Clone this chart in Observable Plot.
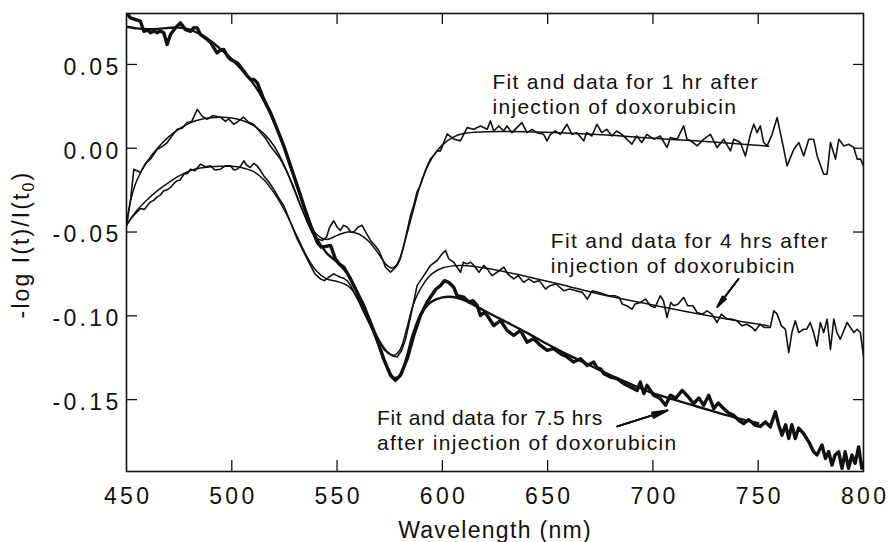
<!DOCTYPE html>
<html><head><meta charset="utf-8">
<script src="https://cdn.jsdelivr.net/npm/d3@7"></script>
<script src="https://cdn.jsdelivr.net/npm/@observablehq/plot@0.6"></script>
<style>
body{margin:0;background:#fff;}
#chart svg{display:block;letter-spacing:1.3px;}
g[aria-label="x-axis tick label"], g[aria-label="y-axis tick label"]{letter-spacing:3.3px;}
</style></head><body><div id="chart"></div>
<script>
// Wavelength (nm) / -log I(t)/I(t0) pairs
const data1hr = [[450,-0.046],[452,-0.030],[453.5,-0.0125],[456.6,-0.0145],[459,-0.009],[461.4,-0.0065],[464.6,-0.0006],[467,0.001],[469.3,0.0034],[472,0.008],[474.1,0.0113],[476.5,0.012],[478.8,0.0153],[481,0.016],[483.6,0.0232],[486,0.019],[488.3,0.0173],[491,0.0195],[494.6,0.0185],[497,0.016],[498.5,0.0175],[500.9,0.0143],[503,0.016],[505.6,0.0185],[508,0.0155],[510.4,0.0143],[513.6,0.0095],[516,0.006],[518.4,0.0012],[521,-0.003],[523.1,-0.0065],[526.3,-0.0143],[529,-0.022],[532,-0.032],[535.8,-0.044],[538,-0.050],[540.5,-0.054],[543,-0.055],[545,-0.053],[546.5,-0.047],[548.4,-0.0433],[550,-0.047],[551.6,-0.049],[553,-0.046],[554.8,-0.047],[556.5,-0.050],[558,-0.050],[560,-0.047],[561.9,-0.046],[564,-0.051],[565.9,-0.055],[568,-0.058],[569.8,-0.061],[571.5,-0.066],[573,-0.071],[575.4,-0.074],[577,-0.072],[578.5,-0.070],[580,-0.066],[581.7,-0.058],[583.3,-0.049],[584.9,-0.040],[586.4,-0.034],[588,-0.026],[589.6,-0.022],[592,-0.013],[594.3,-0.0065],[596,-0.004],[597.5,-0.0016],[599.1,-0.0016],[602.3,0.0085],[605.4,0.0055],[608.6,0.0044],[611.8,0.0123],[614.9,0.0113],[618.1,0.0133],[621.3,0.0113],[622.8,0.0163],[624.4,0.0103],[626.8,0.0133],[629.1,0.0103],[630.7,0.0133],[633.1,0.0093],[635.4,0.0123],[637.8,0.0153],[640.2,0.0093],[642.6,0.0113],[644.9,0.0093],[648.1,0.0083],[649.7,0.0044],[651.3,0.0083],[653.6,0.0103],[656,0.0083],[659.2,0.0143],[661.5,0.0083],[663.9,0.0093],[667.1,0.0044],[668.6,0.0093],[671,0.0073],[673.4,0.0143],[675.7,0.0093],[678.1,0.0113],[680.5,0.0073],[682.8,0.0103],[685.2,0.0083],[687.6,0.0054],[690,0.0024],[692.3,0.0073],[694.7,0.0034],[697.1,0.0083],[700.4,0.0054],[703.5,0.0073],[706.7,0.0004],[708.3,0.0064],[711.5,0.0054],[714.6,0.0133],[716.2,0.0054],[718.5,0.004],[721,0.0014],[724.1,0.0054],[727.3,0.0083],[730.5,0.0004],[733.6,0.0054],[736.8,-0.0016],[738.4,0.0054],[741.5,0.0034],[743.9,-0.0046],[746.3,0.0083],[747.9,0.0143],[749.5,0.0093],[751,0.0133],[752.6,0.0034],[754.2,0.0014],[756.5,0.008],[759,0.0183],[762,0.0004],[763.7,-0.0105],[766.9,-0.0006],[769.3,0.0034],[771.6,-0.0046],[774,0.0054],[776.3,0.0054],[778,-0.0046],[781.1,-0.0155],[782.7,-0.0155],[784.3,0.0034],[786.7,-0.0065],[788.3,0.0054],[790.6,0.0014],[793,0.0024],[795.4,0.0004],[797,-0.0065],[798.6,-0.0065],[800,-0.0105]];
const fit1hr = [[450,-0.046],[452,-0.031],[455,-0.019],[460,-0.0075],[465,0.0005],[470,0.0068],[475,0.0115],[480,0.015],[485,0.0172],[490,0.0182],[495,0.0185],[500,0.018],[505,0.0165],[510,0.0138],[515,0.009],[520,0.0015],[525,-0.0105],[530,-0.026],[535,-0.041],[540,-0.051],[545,-0.0545],[550,-0.052],[555,-0.050],[560,-0.051],[565,-0.0555],[570,-0.0635],[573,-0.069],[576,-0.0715],[578,-0.070],[580,-0.065],[583,-0.052],[586,-0.038],[590,-0.020],[595,-0.006],[600,0.002],[605,0.0065],[610,0.0088],[620,0.0098],[640,0.0098],[660,0.009],[680,0.0078],[700,0.006],[720,0.0044],[740,0.0027],[755,0.0012]];
const data4hr = [[450,-0.046],[452,-0.042],[453.5,-0.040],[455,-0.038],[456.6,-0.036],[458.5,-0.0365],[460,-0.034],[461.4,-0.032],[463,-0.031],[464.6,-0.029],[466,-0.028],[467.7,-0.0254],[469,-0.025],[470.9,-0.0234],[472.5,-0.021],[474.1,-0.0194],[475.5,-0.019],[477.2,-0.0155],[479,-0.015],[480.4,-0.0125],[482.5,-0.0135],[485.1,-0.0095],[487.5,-0.011],[489.9,-0.0105],[492,-0.013],[494.6,-0.0125],[497,-0.0105],[499.4,-0.0105],[501,-0.013],[502.5,-0.0125],[504,-0.011],[505.7,-0.0075],[507,-0.010],[508.8,-0.0115],[510.5,-0.009],[512,-0.0105],[513.5,-0.013],[515.2,-0.0165],[517.5,-0.020],[519.9,-0.0244],[522,-0.029],[524.7,-0.0343],[527.9,-0.0442],[531,-0.054],[534.2,-0.062],[537,-0.069],[539.5,-0.075],[542.1,-0.078],[544,-0.079],[546,-0.077],[548.4,-0.075],[550,-0.076],[551.6,-0.077],[553,-0.0775],[554.8,-0.079],[556.5,-0.082],[558,-0.086],[560.5,-0.092],[562.7,-0.098],[565,-0.104],[567.4,-0.110],[570,-0.115],[572.2,-0.120],[574.5,-0.1225],[576.5,-0.124],[578.5,-0.1246],[580.5,-0.121],[582.5,-0.114],[585,-0.100],[588,-0.082],[591.2,-0.076],[594.3,-0.070],[597.5,-0.067],[599.9,-0.063],[601.5,-0.061],[603,-0.066],[605.4,-0.068],[607,-0.071],[608.6,-0.074],[610,-0.068],[611.7,-0.069],[613.5,-0.068],[615,-0.070],[617.4,-0.074],[619.7,-0.070],[621.3,-0.072],[623.6,-0.076],[626,-0.074],[629.2,-0.071],[631,-0.075],[633.9,-0.078],[636,-0.076],[638.6,-0.080],[641,-0.078],[643.5,-0.080],[646,-0.079],[649,-0.084],[651,-0.082],[654,-0.081],[657.6,-0.085],[660.5,-0.084],[663.5,-0.085],[666.5,-0.086],[668.8,-0.090],[671.2,-0.085],[674,-0.086],[676.5,-0.087],[679.1,-0.088],[682,-0.088],[684,-0.089],[685.4,-0.093],[687.5,-0.094],[690.1,-0.096],[691.5,-0.093],[694,-0.092],[696.5,-0.090],[698.8,-0.094],[701,-0.095],[703.5,-0.088],[705,-0.091],[706.7,-0.101],[708.5,-0.092],[709.9,-0.094],[712,-0.093],[714.6,-0.089],[716.5,-0.094],[719,-0.094],[721,-0.098],[723.5,-0.099],[725.7,-0.097],[728,-0.099],[730.4,-0.104],[732.5,-0.099],[735.2,-0.102],[737.5,-0.102],[739.9,-0.103],[742.3,-0.106],[744.5,-0.105],[747.1,-0.107],[748.6,-0.109],[750.8,-0.105],[753,-0.107],[755.7,-0.107],[757.4,-0.097],[759,-0.099],[761,-0.106],[762.9,-0.108],[764.5,-0.122],[766,-0.110],[767.6,-0.103],[769.2,-0.110],[771.5,-0.108],[773,-0.108],[774.7,-0.104],[776.3,-0.110],[777.9,-0.118],[779.5,-0.104],[781.1,-0.110],[782.7,-0.102],[784.3,-0.120],[785.9,-0.102],[787.4,-0.110],[789,-0.114],[790.6,-0.109],[792.2,-0.104],[793.8,-0.107],[795.4,-0.110],[797,-0.108],[798.5,-0.110],[800,-0.124]];
const fit4hr = [[450,-0.046],[455,-0.037],[460,-0.0305],[465,-0.025],[470,-0.0205],[475,-0.0165],[480,-0.0135],[485,-0.0118],[490,-0.011],[495,-0.0107],[500,-0.0108],[505,-0.0117],[510,-0.0137],[515,-0.0185],[520,-0.0265],[525,-0.037],[530,-0.050],[535,-0.063],[540,-0.073],[545,-0.078],[550,-0.0795],[555,-0.082],[560,-0.0895],[565,-0.102],[570,-0.1145],[574,-0.1215],[577,-0.1235],[580,-0.120],[583,-0.108],[586,-0.094],[590,-0.083],[595,-0.075],[600,-0.0715],[605,-0.0702],[610,-0.070],[620,-0.0715],[640,-0.0765],[660,-0.0825],[680,-0.0885],[700,-0.0935],[720,-0.0985],[740,-0.103],[755,-0.106]];
const data75hr = [[450,0.0808],[451.9,0.0778],[454.3,0.0768],[456.6,0.0758],[458.2,0.0698],[460,0.0705],[461.4,0.0689],[463,0.0700],[464.6,0.0689],[466,0.070],[467.7,0.0689],[469.3,0.0619],[470.9,0.0679],[473.2,0.0718],[475.6,0.0748],[478,0.0708],[480.4,0.0698],[482,0.072],[483.6,0.0718],[485.1,0.0679],[488.3,0.0649],[490,0.063],[491.5,0.0599],[493,0.0569],[494.5,0.0585],[496.2,0.0589],[498,0.055],[499.4,0.0530],[502.5,0.0510],[504,0.049],[505.7,0.0460],[507.5,0.043],[508.9,0.0411],[510.5,0.041],[512.1,0.0391],[515.2,0.0292],[518.4,0.0212],[521.6,0.0113],[524.7,0.0014],[527.9,-0.0105],[531.1,-0.0224],[534.2,-0.0343],[537.4,-0.0462],[540.6,-0.0562],[542.5,-0.059],[545,-0.0585],[546.9,-0.058],[549.2,-0.066],[551,-0.069],[553.2,-0.071],[556.4,-0.078],[559.5,-0.086],[562.7,-0.094],[565.9,-0.104],[569,-0.114],[572.2,-0.126],[575.4,-0.1355],[577.7,-0.1385],[580.1,-0.1355],[583.3,-0.1256],[586.4,-0.1117],[589.6,-0.0998],[592.8,-0.0918],[594.3,-0.0889],[597,-0.084],[599.1,-0.082],[601,-0.079],[603,-0.080],[605.4,-0.083],[607,-0.0879],[610.2,-0.0889],[612.6,-0.0918],[614.5,-0.091],[616.5,-0.0938],[618.1,-0.0998],[620,-0.098],[621.3,-0.0998],[624.4,-0.1058],[627.6,-0.1028],[630.7,-0.1087],[633.9,-0.1117],[637.1,-0.1087],[640.2,-0.1157],[643.4,-0.1137],[646.6,-0.1177],[649.8,-0.1206],[652.9,-0.1196],[656.1,-0.1226],[659.3,-0.1246],[662.4,-0.1276],[665.6,-0.1256],[668.8,-0.1296],[671.9,-0.1276],[673.5,-0.131],[675.1,-0.1316],[676.7,-0.1346],[679.8,-0.1365],[683,-0.1375],[686.2,-0.1405],[689.3,-0.1425],[692.5,-0.1445],[694,-0.1395],[695.7,-0.1464],[697.2,-0.1415],[700.4,-0.1474],[703.5,-0.1494],[706,-0.1534],[708.3,-0.1474],[711,-0.149],[713.9,-0.1445],[716.5,-0.148],[719.4,-0.1524],[721.8,-0.149],[724.1,-0.1534],[726.5,-0.1474],[728.9,-0.1554],[731,-0.152],[733.6,-0.1554],[736,-0.158],[738.4,-0.1594],[740.7,-0.1623],[743.1,-0.1643],[745.5,-0.162],[748.6,-0.1653],[751,-0.166],[753.4,-0.1633],[755.7,-0.1663],[758.2,-0.1573],[759.7,-0.165],[761.3,-0.1712],[763,-0.165],[764.5,-0.1732],[766,-0.165],[767.6,-0.1732],[769.2,-0.167],[771.5,-0.1702],[774,-0.1752],[776.3,-0.1811],[777.9,-0.183],[780.3,-0.1771],[781.9,-0.1851],[783.5,-0.181],[785,-0.1891],[786.5,-0.183],[788.2,-0.1811],[789.8,-0.191],[791.3,-0.1811],[792.9,-0.191],[794.5,-0.1831],[796,-0.188],[797.7,-0.1782],[799.2,-0.191],[800,-0.188]];
const fit75hr = [[450,0.0725],[455,0.0715],[460,0.071],[465,0.0712],[470,0.0718],[475,0.072],[480,0.0708],[485,0.068],[490,0.064],[495,0.0588],[500,0.053],[505,0.0465],[510,0.039],[515,0.029],[520,0.016],[525,0.0],[530,-0.019],[535,-0.037],[540,-0.053],[545,-0.0625],[550,-0.068],[555,-0.075],[560,-0.087],[565,-0.102],[570,-0.1185],[574,-0.131],[577,-0.137],[580,-0.1355],[583,-0.125],[586,-0.111],[590,-0.0985],[595,-0.0915],[600,-0.089],[605,-0.0888],[610,-0.0905],[620,-0.097],[630,-0.1035],[640,-0.110],[650,-0.117],[660,-0.1235],[670,-0.1295],[680,-0.1355],[690,-0.141],[700,-0.1462],[710,-0.150],[720,-0.1538],[730,-0.1575],[740,-0.161],[750,-0.164]];

const xTickLabels = [450, 500, 550, 600, 650, 700, 750, 800];
const xInnerTicks = [500, 550, 600, 650, 700, 750];
const yTicks = [0.05, 0.00, -0.05, -0.10, -0.15];
const xTitle = "Wavelength (nm)";
const labelLines = [
  {text: "Fit and data for 1 hr after", wl: 623.8, v: 0.0351},
  {text: "injection of doxorubicin", wl: 623.8, v: 0.0202},
  {text: "Fit and data for 4 hrs after", wl: 651.5, v: -0.0595},
  {text: "injection of doxorubicin", wl: 651.5, v: -0.0744},
  {text: "Fit and data for 7.5 hrs", wl: 569.0, v: -0.1649},
  {text: "after injection of doxorubicin", wl: 569.0, v: -0.1802}
];
const arrows = [
  {x1: 740.6, y1: -0.078, x2: 730.6, y2: -0.0946},
  {x1: 683.1, y1: -0.166, x2: 706.9, y2: -0.1565}
];

const toObj = arr => arr.map(([wl, v]) => ({wl, v}));
const W = 888, H = 542, mL = 126, mR = 25, mT = 13, mB = 71;
const fw = W - mL - mR, fh = H - mT - mB, tick = 11;
const ink = "#111";
const arrowOpts = a => ({x1: "x1", y1: "y1", x2: "x2", y2: "y2", stroke: ink, strokeWidth: 1.8, headLength: 13, headAngle: a});

const chart = Plot.plot({
  width: W, height: H,
  marginLeft: mL, marginRight: mR, marginTop: mT, marginBottom: mB,
  style: {fontFamily: "'Liberation Sans', Arial, Helvetica, sans-serif", fontSize: "21px", color: ink, background: "#fff"},
  x: {domain: [450, 800]},
  y: {domain: [-0.1929, 0.0804]},
  marks: [
    Plot.axisX({ticks: xTickLabels, tickSize: 0, tickPadding: 16, fontSize: 23, dx: 1.6, tickFormat: d => String(d), label: null}),
    Plot.axisY({ticks: yTicks, tickSize: 0, tickPadding: 5, fontSize: 23, dy: 3, tickFormat: d => d.toFixed(2), label: null}),
    Plot.tickX(xInnerTicks, {x: d => d, insetTop: fh - tick, stroke: ink, strokeWidth: 1.3}),
    Plot.tickX(xInnerTicks, {x: d => d, insetBottom: fh - tick, stroke: ink, strokeWidth: 1.3}),
    Plot.tickY(yTicks, {y: d => d, insetRight: fw - tick, stroke: ink, strokeWidth: 1.3}),
    Plot.tickY(yTicks, {y: d => d, insetLeft: fw - 10, stroke: ink, strokeWidth: 1.3}),
    Plot.line(toObj(data1hr), {x: "wl", y: "v", stroke: ink, strokeWidth: 1.6, clip: true}),
    Plot.line(toObj(data4hr), {x: "wl", y: "v", stroke: ink, strokeWidth: 1.6, clip: true}),
    Plot.line(toObj(fit1hr), {x: "wl", y: "v", stroke: ink, strokeWidth: 1.5, curve: "catmull-rom", clip: true}),
    Plot.line(toObj(fit4hr), {x: "wl", y: "v", stroke: ink, strokeWidth: 1.5, curve: "catmull-rom", clip: true}),
    Plot.line(toObj(data75hr), {x: "wl", y: "v", stroke: ink, strokeWidth: 3.4, clip: true}),
    Plot.line(toObj(fit75hr), {x: "wl", y: "v", stroke: ink, strokeWidth: 2.4, curve: "catmull-rom", clip: true}),
    Plot.arrow(arrows, arrowOpts(22)),
    Plot.arrow(arrows, arrowOpts(14)),
    Plot.arrow(arrows, arrowOpts(6)),
    Plot.text(labelLines, {x: "wl", y: "v", text: "text", textAnchor: "start", lineAnchor: "bottom", fontSize: 21, fill: ink}),
    Plot.text([xTitle], {text: d => d, frameAnchor: "bottom", dy: 66, lineAnchor: "bottom", fontSize: 23, fill: ink}),
    Plot.frame({stroke: ink, strokeWidth: 1.6})
  ]
});
document.getElementById("chart").appendChild(chart);

// the 7.5 hrs first line is set a little tighter in the original
d3.select(chart).selectAll('g[aria-label="text"] text')
  .filter(function () { return this.textContent === "Fit and data for 7.5 hrs"; })
  .style("letter-spacing", "0.6px");

// y-axis title with a real subscript
const t = d3.select(chart).append("text")
  .attr("transform", "translate(29,244.5) rotate(-90)")
  .attr("text-anchor", "middle")
  .attr("font-size", 23)
  .attr("fill", ink)
  .style("letter-spacing", "2.1px");
t.append("tspan").text("-log I(t)/I(t");
t.append("tspan").attr("font-size", 16).attr("dy", 5).text("0");
t.append("tspan").attr("dy", -5).text(")");
</script></body></html>
